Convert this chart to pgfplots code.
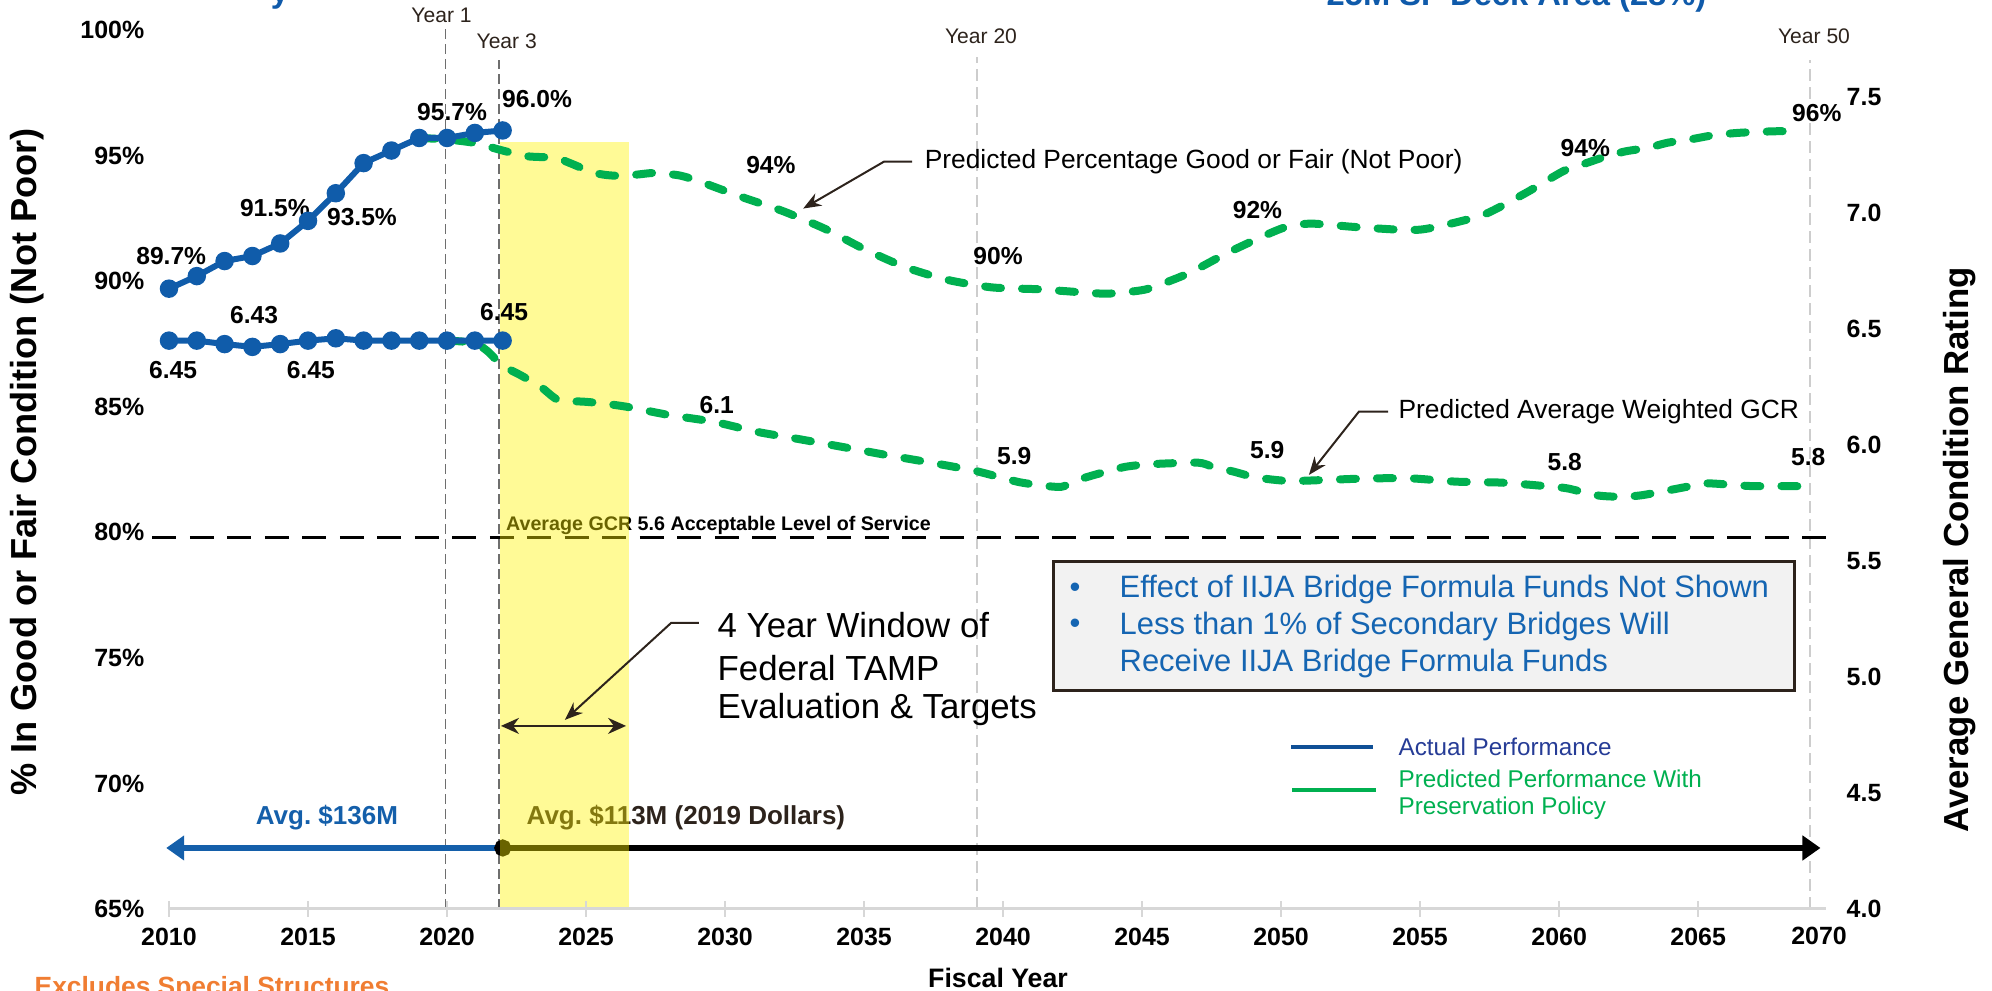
\documentclass[border=0pt]{standalone}
\usepackage{pgfplots}
\pgfplotsset{compat=1.18}
\usepackage{fontspec}
\setmainfont{Liberation Sans}
\usetikzlibrary{arrows.meta}

\definecolor{bl}{RGB}{16,92,170}
\definecolor{gr}{RGB}{0,176,80}
\definecolor{annot}{RGB}{45,35,28}
\definecolor{axisgray}{RGB}{215,215,215}
\definecolor{darkdash}{RGB}{110,110,110}
\definecolor{lightdash}{RGB}{205,205,205}
\definecolor{boxgray}{RGB}{242,242,242}
\definecolor{boxblue}{RGB}{21,101,178}
\definecolor{legblue}{RGB}{16,80,150}
\definecolor{legtext}{RGB}{38,60,150}
\definecolor{avgblue}{RGB}{20,95,170}
\definecolor{orng}{RGB}{240,125,50}
\definecolor{ttlblue}{RGB}{15,90,170}

\newcommand\tickfont{\bfseries\fontsize{7.1pt}{8.5pt}\selectfont}
\newcommand\labfont{\bfseries\fontsize{7.0pt}{8.4pt}\selectfont}
\newcommand\yearfont{\fontsize{6.0pt}{7pt}\selectfont}
\newcommand\gcrfont{\bfseries\fontsize{5.6pt}{6.7pt}\selectfont}
\newcommand\predfont{\fontsize{7.5pt}{9pt}\selectfont}
\newcommand\winfont{\fontsize{9.9pt}{12pt}\selectfont}
\newcommand\boxfont{\fontsize{8.8pt}{10.5pt}\selectfont}
\newcommand\legfont{\fontsize{6.9pt}{8.3pt}\selectfont}
\newcommand\avgfont{\bfseries\fontsize{7.4pt}{8.9pt}\selectfont}
\newcommand\titlefontL{\bfseries\fontsize{10.3pt}{12pt}\selectfont}
\newcommand\titlefontR{\bfseries\fontsize{9.9pt}{12pt}\selectfont}
\newcommand\fiscalfont{\bfseries\fontsize{7.6pt}{9pt}\selectfont}
\newcommand\exclfont{\bfseries\fontsize{7.5pt}{9pt}\selectfont}
\newcommand\ttlfont{\bfseries\fontsize{9.3pt}{11pt}\selectfont}

\tikzset{
  greendash/.style={gr, line width=0.8mm, dash pattern=on 1.6mm off 2.1mm, line cap=round, smooth, tension=0.4},
  actual/.style={bl, line width=0.6mm, mark=*, mark size=0.62mm, mark options={solid, fill=bl, draw=bl}},
  leader/.style={annot, line width=0.2mm, -{Stealth[length=1.8mm,width=1.4mm]}},
}

\begin{document}
\begin{tikzpicture}
\useasboundingbox (0,0) rectangle (199.2mm,99.1mm);

% ---------------- right axis: General Condition Rating ----------------
\begin{axis}[
  at={(16.9mm,8.2mm)}, anchor=south west, scale only axis,
  width=165.7mm, height=87.9mm,
  xmin=2010, xmax=2069.6, ymin=4, ymax=7.789,
  axis x line=none, axis y line*=right,
  y axis line style={draw=none}, ytick style={draw=none},
  ytick={4,4.5,...,7.5},
  /pgf/number format/assume math mode=true,
  yticklabel style={font=\tickfont, anchor=west, inner sep=0pt, xshift=2.0mm,
    /pgf/number format/fixed, /pgf/number format/fixed zerofill, /pgf/number format/precision=1},
  clip=false,
]
% year reference lines
\draw[darkdash, line width=0.15mm, dash pattern=on 1.0mm off 0.5mm] (axis cs:2019.95,4) -- (axis cs:2019.95,7.793);
\draw[darkdash, line width=0.15mm, dash pattern=on 1.0mm off 0.5mm] (axis cs:2021.87,4) -- (axis cs:2021.87,7.659);
\draw[lightdash, line width=0.2mm, dash pattern=on 1.2mm off 0.6mm] (axis cs:2039.05,4) -- (axis cs:2039.05,7.672);
\draw[lightdash, line width=0.2mm, dash pattern=on 1.2mm off 0.6mm] (axis cs:2069.03,4) -- (axis cs:2069.03,7.66);
% acceptable level of service
\draw[black, line width=0.3mm, dash pattern=on 2.4mm off 1.35mm] (axis cs:2009.4,5.6) -- (axis cs:2069.6,5.6);
\node[font=\gcrfont, anchor=west, inner sep=0pt] at (axis cs:2022.1,5.655) {Average GCR 5.6 Acceptable Level of Service};
% funding arrows
\draw[avgblue, line width=0.55mm, -{Triangle[length=1.8mm,width=2.4mm]}] (axis cs:2022,4.263) -- (axis cs:2009.9,4.263);
\draw[black, line width=0.6mm, {Circle[length=1.7mm]}-{Triangle[length=1.8mm,width=2.4mm]}] (axis cs:2021.7,4.263) -- (axis cs:2069.4,4.263);
\node[font=\avgfont, text=avgblue] at (axis cs:2015.68,4.392) {Avg.\ \$136M};
\node[font=\avgfont, text=annot, anchor=west, inner sep=0pt] at (axis cs:2022.84,4.392) {Avg.\ \$113M (2019 Dollars)};
% TAMP window
\fill[yellow, opacity=0.41] (axis cs:2021.9,4) rectangle (axis cs:2026.56,7.307);

% predicted GCR
\addplot[greendash] coordinates {
(2020,6.45) (2021,6.44) (2021.5,6.40) (2021.96,6.345) (2022.66,6.30) (2023.37,6.251)
(2024.0,6.194) (2024.9,6.187) (2025.55,6.18) (2026.45,6.165) (2028.0,6.129) (2029.6,6.100)
(2031.14,6.057) (2032.68,6.025) (2034.3,5.99) (2035.8,5.957) (2037.4,5.924) (2038.98,5.889)
(2040.5,5.842) (2041.25,5.828) (2042.1,5.82) (2042.86,5.856) (2043.7,5.885) (2044.4,5.906)
(2045.24,5.917) (2047.0,5.924) (2047.55,5.906) (2048.3,5.885) (2049.1,5.86) (2050.25,5.845)
(2051.5,5.849) (2053.14,5.856) (2054.7,5.856) (2056.3,5.842) (2057.9,5.838) (2059.5,5.823)
(2060.3,5.813) (2061.36,5.783) (2062.2,5.777) (2063.0,5.784) (2064.6,5.82) (2065.3,5.835)
(2066.9,5.823) (2068.4,5.823) (2069.1,5.82)
};
% actual GCR
\addplot[actual] coordinates {
(2010,6.45) (2011,6.45) (2012,6.435) (2013,6.423) (2014,6.435) (2015,6.45) (2016,6.46)
(2017,6.45) (2018,6.45) (2019,6.45) (2020,6.45) (2021,6.45) (2022,6.45)
};
% GCR labels
\node[font=\labfont] at (axis cs:2013.06,6.560) {6.43};
\node[font=\labfont] at (axis cs:2010.15,6.323) {6.45};
\node[font=\labfont] at (axis cs:2015.1,6.323) {6.45};
\node[font=\labfont] at (axis cs:2022.05,6.573) {6.45};
\node[font=\labfont] at (axis cs:2029.7,6.172) {6.1};
\node[font=\labfont] at (axis cs:2040.4,5.953) {5.9};
\node[font=\labfont] at (axis cs:2049.5,5.978) {5.9};
\node[font=\labfont] at (axis cs:2060.2,5.928) {5.8};
\node[font=\labfont] at (axis cs:2068.96,5.950) {5.8};
% GCR callout
\draw[leader] (axis cs:2053.85,6.144) -- (axis cs:2052.8,6.144) -- (axis cs:2051.0,5.871);
\node[font=\predfont, text=black, anchor=west, inner sep=0pt] at (axis cs:2054.2,6.144) {Predicted Average Weighted GCR};
\end{axis}

% ---------------- left axis: percent good or fair ----------------
\begin{axis}[
  at={(16.9mm,8.2mm)}, anchor=south west, scale only axis,
  width=165.7mm, height=87.9mm,
  xmin=2010, xmax=2069.6, ymin=65, ymax=100,
  axis x line*=bottom, axis y line*=left,
  y axis line style={draw=none},
  x axis line style={-, draw=axisgray, line width=0.3mm},
  xtick={2010,2015,...,2065},
  ytick={65,70,...,100},
  tick align=center,
  major tick length=1.6mm,
  xtick style={draw=axisgray, line width=0.2mm},
  ytick style={draw=none},
  /pgf/number format/assume math mode=true,
  /pgf/number format/1000 sep={},
  xticklabel style={font=\tickfont, anchor=center, yshift=-2.0mm},
  yticklabel style={font=\tickfont, anchor=east, inner sep=0pt, xshift=-1.6mm},
  yticklabel={\pgfmathprintnumber{\tick}\%},
  clip=false,
]
% predicted percent
\addplot[greendash] coordinates {
(2019,95.7) (2020,95.64) (2021,95.5) (2022,95.2) (2022.9,94.97) (2023.9,94.91) (2024.4,94.71)
(2025.3,94.31) (2026.0,94.20) (2026.8,94.24) (2027.5,94.31) (2028.4,94.20) (2029.15,93.94)
(2030.6,93.35) (2032.1,92.78) (2033.6,92.08) (2035.0,91.28) (2036.5,90.55) (2038.0,90.05)
(2039.6,89.75) (2041.2,89.68) (2042.0,89.62) (2043.6,89.50) (2044.3,89.55) (2045.2,89.69)
(2046.65,90.30) (2048.06,91.12) (2049.48,91.85) (2050.25,92.18) (2051.1,92.29) (2052.6,92.16)
(2054.2,92.05) (2055.0,92.05) (2055.8,92.21) (2057.3,92.65) (2058.8,93.51) (2060.15,94.38)
(2060.9,94.67) (2061.7,94.97) (2062.4,95.17) (2063.2,95.31) (2063.9,95.51) (2064.8,95.66)
(2065.55,95.81) (2066.4,95.90) (2067.1,95.94) (2067.95,95.97) (2068.7,95.93)
};
% actual percent
\addplot[actual] coordinates {
(2010,89.7) (2011,90.2) (2012,90.8) (2013,91.0) (2014,91.5) (2015,92.4) (2016,93.5)
(2017,94.7) (2018,95.2) (2019,95.7) (2020,95.7) (2021,95.9) (2022,96.0)
};
% percent labels
\node[font=\labfont] at (axis cs:2010.08,90.98) {89.7\%};
\node[font=\labfont] at (axis cs:2013.81,92.93) {91.5\%};
\node[font=\labfont] at (axis cs:2016.94,92.57) {93.5\%};
\node[font=\labfont] at (axis cs:2020.18,96.75) {95.7\%};
\node[font=\labfont] at (axis cs:2023.24,97.27) {96.0\%};
\node[font=\labfont] at (axis cs:2031.65,94.61) {94\%};
\node[font=\labfont] at (axis cs:2039.82,90.98) {90\%};
\node[font=\labfont] at (axis cs:2049.15,92.82) {92\%};
\node[font=\labfont] at (axis cs:2060.94,95.31) {94\%};
\node[font=\labfont] at (axis cs:2069.27,96.70) {96\%};
% percent callout
\draw[leader] (axis cs:2036.73,94.76) -- (axis cs:2035.72,94.76) -- (axis cs:2032.81,92.89);
\node[font=\predfont, anchor=west, inner sep=0pt] at (axis cs:2037.16,94.76) {Predicted Percentage Good or Fair (Not Poor)};
% TAMP window callout
\draw[annot, line width=0.2mm, {Stealth[length=1.8mm,width=1.6mm]}-{Stealth[length=1.8mm,width=1.6mm]}] (axis cs:2021.94,72.29) -- (axis cs:2026.44,72.29);
\draw[leader] (axis cs:2029.06,76.39) -- (axis cs:2028.06,76.39) -- (axis cs:2024.24,72.53);
\node[font=\winfont, anchor=west, inner sep=0pt] at (axis cs:2029.71,76.31) {4 Year Window of};
\node[font=\winfont, anchor=west, inner sep=0pt] at (axis cs:2029.71,74.60) {Federal TAMP};
\node[font=\winfont, anchor=west, inner sep=0pt] at (axis cs:2029.71,72.93) {Evaluation \& Targets};
% note box
\draw[draw=annot, fill=boxgray, line width=0.3mm] (axis cs:2041.8,78.82) rectangle (axis cs:2068.45,73.69);
\node[font=\boxfont, text=boxblue] at (axis cs:2042.59,77.71) {\textbullet};
\node[font=\boxfont, text=boxblue] at (axis cs:2042.59,76.24) {\textbullet};
\node[font=\boxfont, text=boxblue, anchor=west, inner sep=0pt] at (axis cs:2044.17,77.71) {Effect of IIJA Bridge Formula Funds Not Shown};
\node[font=\boxfont, text=boxblue, anchor=west, inner sep=0pt] at (axis cs:2044.17,76.24) {Less than 1\% of Secondary Bridges Will};
\node[font=\boxfont, text=boxblue, anchor=west, inner sep=0pt] at (axis cs:2044.17,74.76) {Receive IIJA Bridge Formula Funds};
% legend
\draw[legblue, line width=0.45mm] (axis cs:2050.36,71.45) -- (axis cs:2053.31,71.45);
\draw[gr, line width=0.45mm] (axis cs:2050.40,69.74) -- (axis cs:2053.40,69.74);
\node[font=\legfont, text=legtext, anchor=west, inner sep=0pt] at (axis cs:2054.2,71.45) {Actual Performance};
\node[font=\legfont, text=gr, anchor=west, inner sep=0pt] at (axis cs:2054.2,70.18) {Predicted Performance With};
\node[font=\legfont, text=gr, anchor=west, inner sep=0pt] at (axis cs:2054.2,69.02) {Preservation Policy};
% last tick label
\node[font=\tickfont] at (axis cs:2069.35,65) [yshift=-2.7mm] {2070};
\end{axis}

% ---------------- outer texts ----------------
\node[font=\titlefontL, rotate=90] at (2.7mm,52.9mm) {\% In Good or Fair Condition (Not Poor)};
\node[font=\titlefontR, rotate=90] at (196.0mm,44.1mm) {Average General Condition Rating};
\node[font=\fiscalfont] at (99.8mm,1.3mm) {Fiscal Year};
\node[font=\exclfont, text=orng, anchor=north west, inner sep=0pt] at (3.4mm,1.5mm) {Excludes Special Structures};
\node[font=\ttlfont, text=ttlblue, anchor=base west, inner sep=0pt] at (132.6mm,98.5mm) {25M SF Deck Area (28\%)};
\node[font=\ttlfont, text=ttlblue, anchor=base, inner sep=0pt] at (28.0mm,98.8mm) {y};
\node[font=\yearfont, text=annot] at (44.15mm,97.6mm) {Year 1};
\node[font=\yearfont, text=annot] at (50.67mm,94.93mm) {Year 3};
\node[font=\yearfont, text=annot] at (98.1mm,95.5mm) {Year 20};
\node[font=\yearfont, text=annot] at (181.4mm,95.5mm) {Year 50};
\end{tikzpicture}
\end{document}
